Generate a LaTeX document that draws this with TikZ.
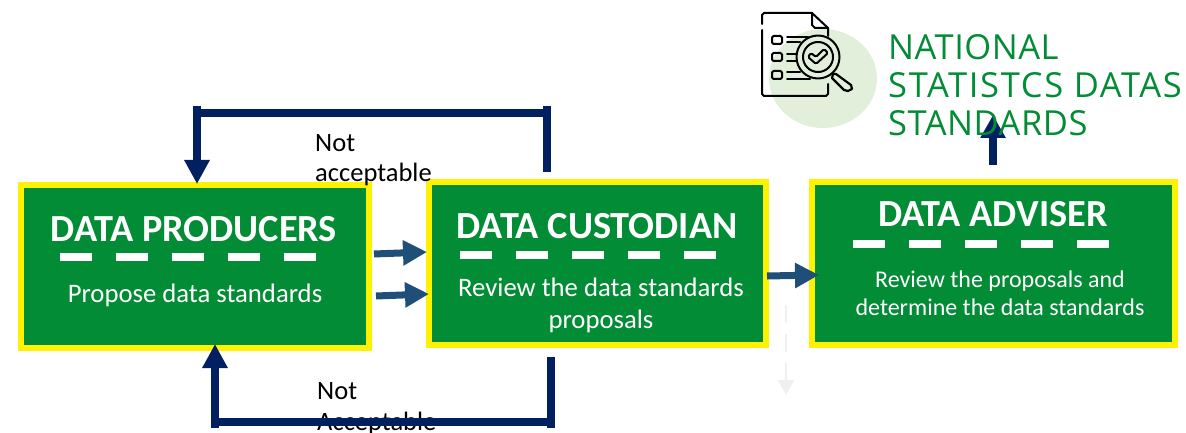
\documentclass[tikz,border=0pt]{standalone}
\usepackage{fontspec}
\setmainfont{Carlito}
\newfontfamily\headfont{Open Sans}[LetterSpace=1.5]
\newfontfamily\headwide{Open Sans}[LetterSpace=4.8]
\usetikzlibrary{arrows.meta, positioning, shapes.geometric}
\definecolor{boxgreen}{HTML}{038C36}
\definecolor{loopblue}{HTML}{002060}
\definecolor{flowblue}{HTML}{1F4E79}
\definecolor{paleblob}{HTML}{E2EFDA}
\tikzstyle{stagebox}=[draw=yellow, fill=boxgreen, line width=6pt, inner sep=0pt]
\tikzstyle{stagetitle}=[text=white, font=\bfseries\fontsize{38.3}{38}\selectfont, anchor=base, inner sep=0pt]
\tikzstyle{stagebody}=[text=white, anchor=base, inner sep=0pt, align=center]
\tikzstyle{notelabel}=[text=black, anchor=base west, inner sep=0pt, align=left, font=\fontsize{26.5}{31}\selectfont]
\tikzstyle{gapline}=[white, line width=8pt, dash pattern=on 32pt off 24pt]
\tikzstyle{loopline}=[loopblue, line width=7.5pt]
\tikzstyle{looparrow}=[loopblue, line width=7.5pt, -{Triangle[length=24pt, width=24pt]}]
\tikzstyle{flowarrow}=[flowblue, line width=7pt, -{Triangle[length=24pt, width=24pt]}]
\tikzstyle{icon}=[black, line width=2pt, line cap=round, line join=round]
\begin{document}
\begin{tikzpicture}[x=1pt, y=-1pt]
\useasboundingbox (0,0) rectangle (1186,433);

% boxes
\node[stagebox, minimum width=348pt, minimum height=163pt] (prod) at (195,266.5) {};
\node[stagebox, minimum width=337pt, minimum height=163pt] (cust) at (597.5,263.5) {};
\node[stagebox, minimum width=363pt, minimum height=163pt] (adv) at (993.5,263.5) {};

\node[stagetitle] (prodT) at (194,241) {DATA PRODUCERS};
\node[stagetitle] (custT) at (597,238) {DATA CUSTODIAN};
\node[stagetitle] (advT) at (993,226) {DATA ADVISER};

\node[stagebody, font=\fontsize{26.7}{32}\selectfont] (prodB) at (195,302) {Propose data standards};
\node[stagebody, font=\fontsize{26.7}{32}\selectfont] (custB) at (601,328) {Review the data standards\\proposals};
\node[stagebody, font=\fontsize{24}{28}\selectfont] (advB) at (1000,315) {Review the proposals and\\determine the data standards};

% dashes under the titles
\coordinate (prodL) at (60,257);
\coordinate (prodR) at (316,257);
\coordinate (custL) at (460,255);
\coordinate (custR) at (716,255);
\coordinate (advL) at (853,244);
\coordinate (advR) at (1109,244);
\draw[gapline] (prodL) -- (prodR);
\draw[gapline] (custL) -- (custR);
\draw[gapline] (advL) -- (advR);

% labels go under the loops
\node[notelabel] (notA) at (315,182) {Not\\acceptable};
\node[notelabel] (notB) at (317,430) {Not\\Acceptable};

% top loop
\coordinate (topA) at (547,172);
\coordinate (topB) at (547,106);
\coordinate (topC) at (547,113);
\coordinate (topD) at (197,113);
\coordinate (topE) at (197,106);
\coordinate (topF) at (197,184);
\draw[loopline] (topA) -- (topB);
\draw[loopline] (topC) -- (topD);
\draw[looparrow] (topE) -- (topF);

% bottom loop
\coordinate (botA) at (551,357);
\coordinate (botB) at (551,428);
\coordinate (botC) at (551,422);
\coordinate (botD) at (215,422);
\coordinate (botE) at (215,428);
\coordinate (botF) at (215,344);
\draw[loopline] (botA) -- (botB);
\draw[loopline] (botC) -- (botD);
\draw[looparrow] (botE) -- (botF);

% flow between the boxes
\coordinate (flowA) at (374,254);
\coordinate (flowB) at (427,252);
\coordinate (flowC) at (376,296);
\coordinate (flowD) at (429,294);
\coordinate (flowE) at (767,276);
\coordinate (flowF) at (819,275);
\draw[flowarrow] (flowA) -- (flowB);
\draw[flowarrow] (flowC) -- (flowD);
\draw[flowarrow] (flowE) -- (flowF);

% faded arrow
\coordinate (fadeA) at (786,305);
\coordinate (fadeB) at (786,395);
\draw[black!6, line width=2.5pt, dash pattern=on 18pt off 11pt, -{Triangle[length=15pt, width=16pt]}] (fadeA) -- (fadeB);

% icon and heading
\node[ellipse, fill=paleblob, minimum width=108pt, minimum height=99pt, inner sep=0pt] (blob) at (823,78.5) {};
\coordinate (upA) at (993,165);
\coordinate (upB) at (993,115);
\draw[loopblue, line width=8pt, -{Triangle[length=23pt, width=24pt]}] (upA) -- (upB);
\node[anchor=base west, inner sep=0pt, align=left, text=boxgreen, font=\headfont\fontsize{34.5}{38.5}\selectfont] (head) at (888,136) {NATIONAL\\{\headwide STATISTCS DATAS}\\STANDARDS};

\draw[icon] (762,24) -- (762,15) -- (764,13) -- (812,13) -- (828,28) -- (828,36);
\draw[icon] (812,13) -- (812,25) -- (815,28) -- (828,28);
\draw[icon] (762,30) -- (762,94) -- (764,96) -- (826,96) -- (828,94) -- (828,84);
\foreach \y in {40,57,75}{
\draw[icon, rounded corners=1.5pt] (772,\y-4) rectangle (782,\y+4);
}
\draw[icon] (787,37) -- (808,37);
\draw[icon] (787,42) -- (800,42);
\draw[icon] (787,54) -- (796,54);
\draw[icon] (787,61) -- (796,61);
\draw[icon] (787,72) -- (800,72);
\draw[icon] (787,79) -- (810,79);
\draw[icon] (818,57) circle (21.5pt);
\draw[icon] (818,57) circle (15pt);
\draw[icon, rounded corners=1.5pt] (808,57) -- (811,53) -- (816,57) -- (824,49) -- (828,53) -- (816,64) -- cycle;
\draw[icon, line width=2.2pt] (833,74) -- (836,74) -- (851,85) -- (852,89) -- (848,91) -- (844,90) -- (832,78) -- cycle;
\end{tikzpicture}
\end{document}
